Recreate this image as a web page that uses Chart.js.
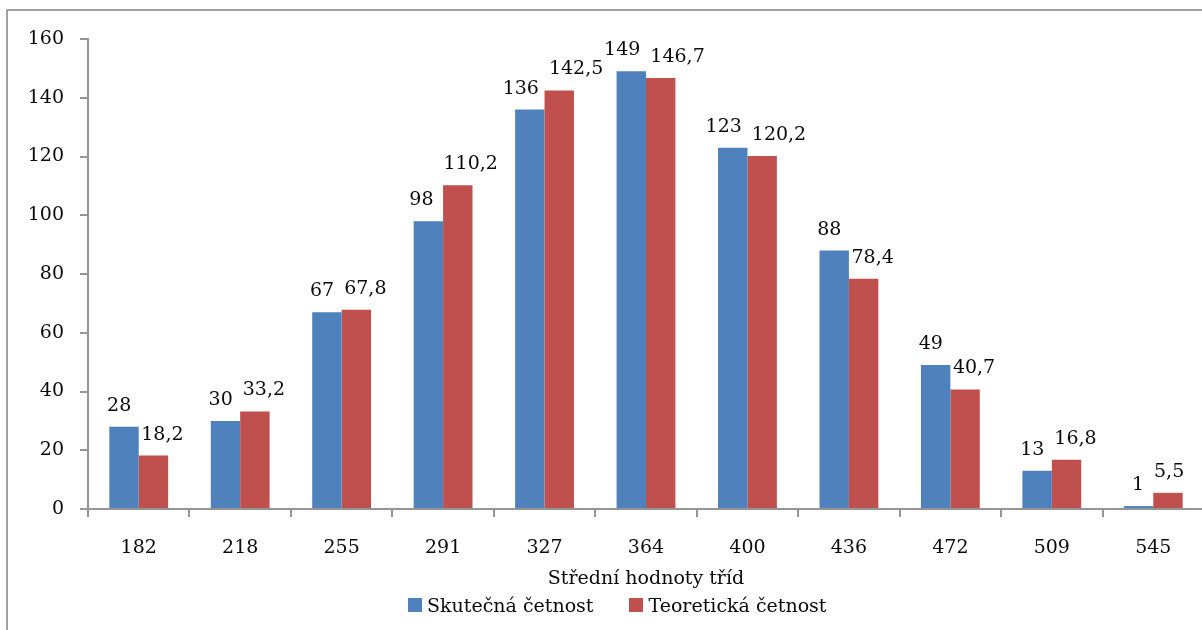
<!DOCTYPE html>
<html lang="cs">
<head>
<meta charset="utf-8">
<title>Střední hodnoty tříd</title>
<script src="https://cdn.jsdelivr.net/npm/chart.js@4/dist/chart.umd.min.js"></script>
<style>
  html, body { margin: 0; padding: 0; background: #fff; overflow: hidden; }
  body { width: 1202px; height: 630px; position: relative; }
  #frame { position: absolute; left: 6px; top: 9px; width: 1300px; height: 700px;
           border-left: 2px solid #a2a2a2; border-top: 2px solid #a2a2a2; box-sizing: border-box; }
  #chart { position: absolute; left: 0; top: 0; }
  #legend { position: absolute; left: 408px; top: 594px; display: flex; align-items: center;
            font-family: "DejaVu Serif", serif; font-size: 19px; color: #0a0a0a; }
  .item { display: flex; align-items: center; margin-right: 36px; }
  .swatch { width: 14px; height: 14px; margin-right: 5px; }
</style>
</head>
<body>
<div id="frame"></div>
<canvas id="chart" width="1204" height="630"></canvas>
<div id="legend"></div>
<script>
// class midpoints and observed / expected frequencies
const categories = ['182', '218', '255', '291', '327', '364', '400', '436', '472', '509', '545'];
const actualCounts = [28, 30, 67, 98, 136, 149, 123, 88, 49, 13, 1];
const expectedCounts = [18.2, 33.2, 67.8, 110.2, 142.5, 146.7, 120.2, 78.4, 40.7, 16.8, 5.5];
const yTicks = [0, 20, 40, 60, 80, 100, 120, 140, 160];
const seriesNames = ['Skutečná četnost', 'Teoretická četnost'];
const seriesColors = ['#4F81BD', '#C0504D'];

const FONT = '"DejaVu Serif", serif';
const FSIZE = 19;
const TEXT = '#0a0a0a';
const AXIS = '#959595';

const fmt = v => String(v).replace('.', ',');

// value labels above each pair of bars, nudged apart when they would collide
const valueLabels = {
  id: 'valueLabels',
  afterDatasetsDraw(chart) {
    const ctx = chart.ctx;
    const m0 = chart.getDatasetMeta(0);
    const m1 = chart.getDatasetMeta(1);
    const d0 = chart.data.datasets[0].data;
    const d1 = chart.data.datasets[1].data;
    ctx.save();
    ctx.font = FSIZE + 'px ' + FONT;
    ctx.fillStyle = TEXT;
    ctx.textAlign = 'center';
    ctx.textBaseline = 'alphabetic';
    const gap = 10;
    for (let i = 0; i < d0.length; i++) {
      const b0 = m0.data[i], b1 = m1.data[i];
      const t0 = fmt(d0[i]), t1 = fmt(d1[i]);
      const w0 = ctx.measureText(t0).width, w1 = ctx.measureText(t1).width;
      let x0 = b0.x, x1 = b1.x;
      const ov = (x0 + w0 / 2 + gap) - (x1 - w1 / 2);
      if (ov > 0) { x0 -= ov * 0.35; x1 += ov * 0.65; }
      ctx.fillText(t0, x0, b0.y - 16);
      ctx.fillText(t1, x1, b1.y - 16);
    }
    ctx.restore();
  }
};

new Chart(document.getElementById('chart'), {
  type: 'bar',
  data: {
    labels: categories,
    datasets: [
      { label: seriesNames[0], data: actualCounts, backgroundColor: seriesColors[0],
        categoryPercentage: 0.58, barPercentage: 1.0 },
      { label: seriesNames[1], data: expectedCounts, backgroundColor: seriesColors[1],
        categoryPercentage: 0.58, barPercentage: 1.0 }
    ]
  },
  options: {
    responsive: false,
    animation: false,
    layout: { padding: { top: 39, left: 0, right: 0, bottom: 40 } },
    plugins: { legend: { display: false }, tooltip: { enabled: false } },
    scales: {
      x: {
        afterFit: s => { s.height = 81; },
        border: { display: true, color: AXIS, width: 2 },
        grid: { offset: true, drawOnChartArea: false, drawTicks: true, tickLength: 8,
                color: AXIS, lineWidth: 2 },
        ticks: { color: TEXT, font: { family: FONT, size: FSIZE }, padding: 20, maxRotation: 0 },
        title: { display: true, text: 'Střední hodnoty tříd', color: TEXT,
                 font: { family: FONT, size: FSIZE }, padding: { top: 0, bottom: 0 } }
      },
      y: {
        min: yTicks[0],
        max: yTicks[yTicks.length - 1],
        afterFit: s => { s.width = 88; },
        afterBuildTicks: s => { s.ticks = yTicks.map(v => ({ value: v })); },
        border: { display: true, color: AXIS, width: 2 },
        grid: { drawOnChartArea: false, drawTicks: true, tickLength: 8, color: AXIS, lineWidth: 2 },
        ticks: { color: TEXT, font: { family: FONT, size: FSIZE }, padding: 16 }
      }
    }
  },
  plugins: [valueLabels]
});

// legend row under the axis title
const legend = document.getElementById('legend');
seriesNames.forEach((name, i) => {
  const item = document.createElement('div');
  item.className = 'item';
  const sw = document.createElement('span');
  sw.className = 'swatch';
  sw.style.background = seriesColors[i];
  const tx = document.createElement('span');
  tx.textContent = name;
  item.appendChild(sw);
  item.appendChild(tx);
  legend.appendChild(item);
});
</script>
</body>
</html>
